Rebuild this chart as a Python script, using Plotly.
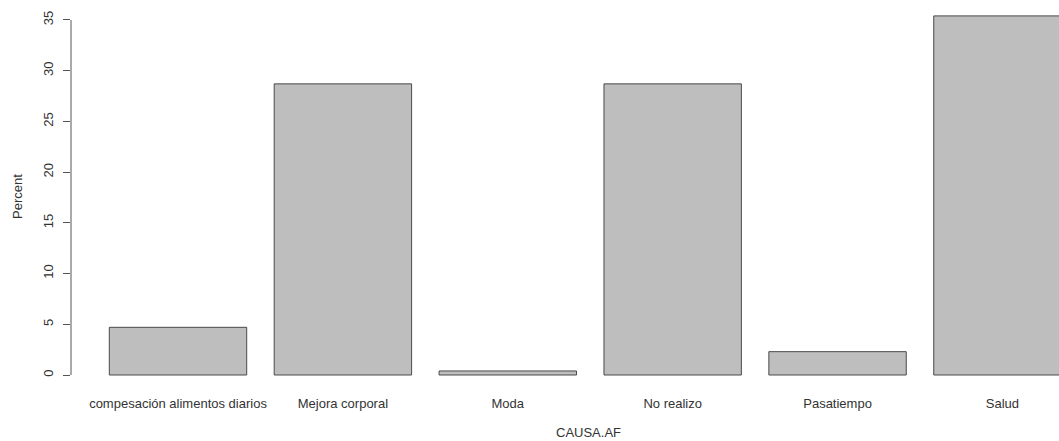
import plotly.graph_objects as go

categories = ["compesación alimentos diarios", "Mejora corporal", "Moda",
              "No realizo", "Pasatiempo", "Salud"]
percent = [4.7, 28.7, 0.4, 28.7, 2.3, 35.4]
y_ticks = [0, 5, 10, 15, 20, 25, 30, 35]

W, H = 1059, 441
ml, mr, mt, mb = 71, 0, 2, 52
plot_w = W - ml - mr
plot_h = H - mt - mb

fig = go.Figure(go.Bar(
    x=categories, y=percent,
    marker=dict(color="#BEBEBE", line=dict(color="#4a4a4a", width=1)),
    width=1 / 1.2,
    hoverinfo="skip",
))

fig.update_layout(
    width=W, height=H,
    margin=dict(l=ml, r=mr, t=mt, b=mb),
    plot_bgcolor="white", paper_bgcolor="white",
    font=dict(family="Liberation Sans, Arial, sans-serif", size=13, color="#333"),
    showlegend=False,
    xaxis=dict(
        type="category", range=[-0.649, 5.343],
        showline=False, showgrid=False, zeroline=False,
        ticks="outside", ticklen=2, tickcolor="rgba(0,0,0,0)",
        tickfont=dict(size=13, color="#333"),
    ),
    yaxis=dict(
        range=[-1.38, 36.77],
        tickvals=y_ticks, ticktext=[str(v) for v in y_ticks],
        showline=False, showgrid=False, zeroline=False,
        ticks="outside", ticklen=7, tickcolor="#555", tickwidth=1,
        ticklabelstandoff=5,
        tickangle=-90, tickfont=dict(size=13, color="#333"),
    ),
    shapes=[dict(type="line", xref="paper", yref="y", x0=0, x1=0,
                 y0=y_ticks[0], y1=y_ticks[-1], line=dict(color="#555", width=1))],
    annotations=[
        dict(text="Percent", xref="paper", yref="paper",
             x=(17 - ml) / plot_w, y=(H - mb - 197) / plot_h,
             textangle=-90, showarrow=False, font=dict(size=13, color="#333"),
             xanchor="center", yanchor="middle"),
        dict(text="CAUSA.AF", xref="paper", yref="paper",
             x=(588 - ml) / plot_w, y=-(433 - (H - mb)) / plot_h,
             showarrow=False, font=dict(size=13, color="#333"),
             xanchor="center", yanchor="middle"),
    ],
)

fig.write_html("out.html", config={"displayModeBar": False},
               post_script="document.body.style.margin='0';document.body.style.overflow='hidden';")
